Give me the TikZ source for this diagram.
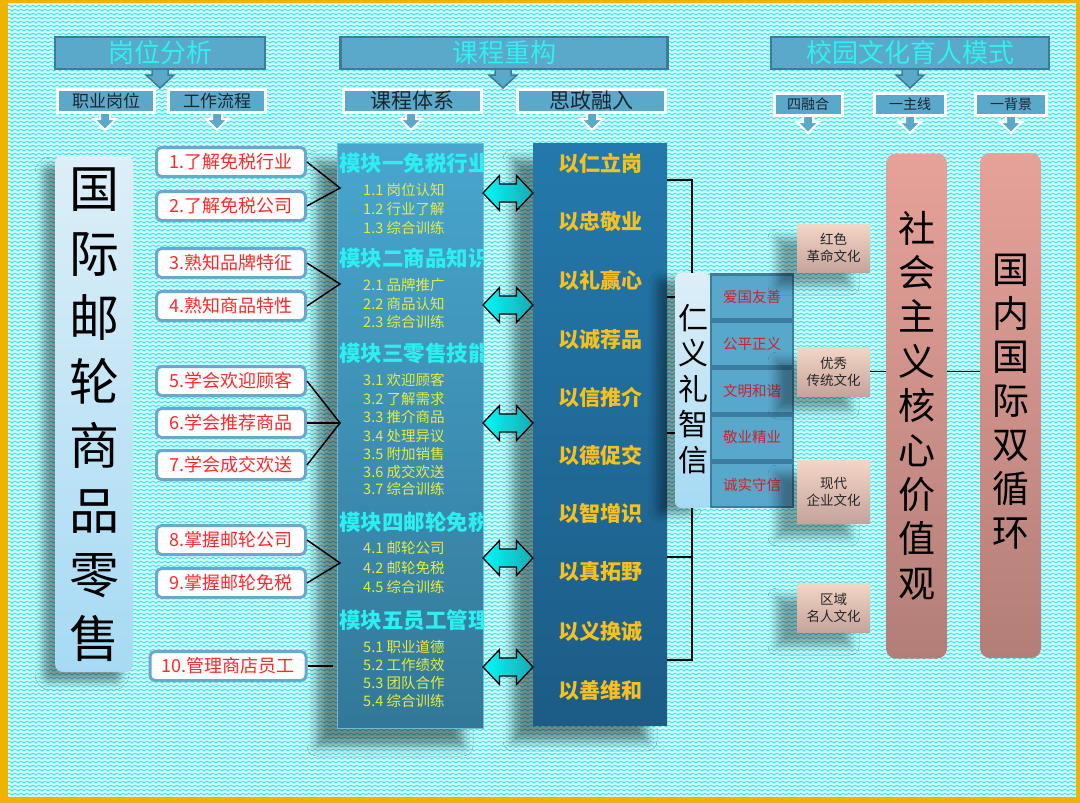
\documentclass[tikz,border=0pt]{standalone}
\usepackage{fontspec}
\newfontfamily\cjk{Noto Sans CJK SC}
\usetikzlibrary{shadows.blur,patterns,calc}
\newcommand\fsz[2]{\fontsize{#1}{#2}\selectfont}
\definecolor{frameor}{HTML}{F0B400}
\definecolor{bgbase}{HTML}{D6FAFA}
\definecolor{bgline}{HTML}{30E6EE}
\definecolor{hdrblue}{HTML}{5AA8CA}
\definecolor{hdrdark}{HTML}{3C7C9A}
\definecolor{hdrtext}{HTML}{30F0F0}
\definecolor{subtext}{HTML}{1A2630}
\definecolor{taskbd}{HTML}{6AA8CC}
\definecolor{taskred}{HTML}{FF2828}
\definecolor{lbtop}{HTML}{DDEFF8}
\definecolor{lbbot}{HTML}{A6DAF4}
\definecolor{modtop}{HTML}{48A6CE}
\definecolor{modbot}{HTML}{327898}
\definecolor{modbd}{HTML}{70BCDC}
\definecolor{modcyan}{HTML}{2CF0F0}
\definecolor{modyellow}{HTML}{E6EC3C}
\definecolor{sztop}{HTML}{2379AC}
\definecolor{szbot}{HTML}{1C5C86}
\definecolor{szgold}{HTML}{F5C020}
\definecolor{arrcyan}{HTML}{00FAFA}
\definecolor{arrteal}{HTML}{1AAAB2}
\definecolor{valfill}{HTML}{58A8CC}
\definecolor{valbd}{HTML}{3C7CA0}
\definecolor{valred}{HTML}{D0202A}
\definecolor{cultop}{HTML}{F4D6C6}
\definecolor{culbot}{HTML}{C4A49C}
\definecolor{pinktop}{HTML}{E6A299}
\definecolor{pinkbot}{HTML}{B37E78}
\pgfdeclarepatternformonly{zigzag}{\pgfqpoint{-1pt}{-1pt}}{\pgfqpoint{7pt}{5pt}}{\pgfqpoint{6pt}{4pt}}{
  \pgfsetlinewidth{0.8pt}
  \pgfpathmoveto{\pgfqpoint{-1.5pt}{1pt}}
  \pgfpathlineto{\pgfqpoint{0pt}{0pt}}
  \pgfpathlineto{\pgfqpoint{3pt}{2pt}}
  \pgfpathlineto{\pgfqpoint{6pt}{0pt}}
  \pgfpathlineto{\pgfqpoint{7.5pt}{1pt}}
  \pgfusepath{stroke}}
\tikzset{
  hdr/.style={fill=hdrblue, draw=hdrdark, line width=2.5pt, text=hdrtext, font=\cjk\fsz{26}{26}, inner sep=0pt, minimum height=32},
  subhdr/.style={fill=hdrblue, draw=white, line width=3pt, text=subtext, inner sep=0pt, minimum height=23},
  task/.style={fill=white, draw=taskbd, line width=3pt, rounded corners=5pt, text=taskred, font=\cjk\fsz{18}{18}, minimum width=149, minimum height=29, inner sep=0pt},
  conn/.style={draw=black, line width=1.5pt},
  lbox/.style={rounded corners=8pt, top color=lbtop, bottom color=lbbot, inner sep=0pt},
  modhead/.style={anchor=west, text=modcyan, font=\cjk\bfseries\fsz{21.5}{21.5}, inner sep=0pt},
  moditem/.style={anchor=west, text=modyellow, font=\cjk\fsz{14.5}{14.5}, inner sep=0pt},
  szt/.style={text=szgold, font=\cjk\bfseries\fsz{21}{21}, inner sep=0pt},
  valbox/.style={fill=valfill, draw=valbd, line width=2.5pt, text=valred, font=\cjk\fsz{14.5}{14.5}, minimum width=82, minimum height=44.5, inner sep=0pt},
  culbox/.style={top color=cultop, bottom color=culbot, minimum width=73, inner sep=0pt, align=center, text=black!85, font=\cjk\fsz{13.5}{17},
    blur shadow={shadow xshift=-20pt, shadow yshift=-14pt, shadow blur radius=9pt, shadow opacity=35}},
  pinkbox/.style={rounded corners=10pt, top color=pinktop, bottom color=pinkbot, minimum width=61, minimum height=505, inner sep=0pt},
  hdrarrow/.pic={\path[fill=hdrblue, draw=hdrdark, line width=1.5pt] (-8,-4) -- (-8,5) -- (-14,5) -- (0,18) -- (14,5) -- (8,5) -- (8,-4) -- cycle;},
  subarrow/.pic={\path[fill=hdrblue, draw=white, line width=2pt] (-5,-4) -- (-5,5) -- (-11,5) -- (0,16) -- (11,5) -- (5,5) -- (5,-4) -- cycle;},
  dblarrow/.pic={\path[draw=black, line width=1.3pt, left color=arrcyan, right color=arrteal] (-25,0) -- (-8.5,-17.5) -- (-8.5,-9) -- (8.5,-9) -- (8.5,-17.5) -- (25,0) -- (8.5,17.5) -- (8.5,9) -- (-8.5,9) -- (-8.5,17.5) -- cycle;}
}
\begin{document}
\begin{tikzpicture}[x=1pt,y=-1pt]
\useasboundingbox (0,0) rectangle (1080,803);
\fill[frameor] (0,0) rectangle (1080,803);
\fill[bgbase] (8,3) rectangle (1076,797);
\fill[pattern=zigzag, pattern color=bgline] (8,3) rectangle (1076,797);

% ---------- headers ----------
\pic at (160,70) {hdrarrow};
\pic at (503,70) {hdrarrow};
\pic at (910,70) {hdrarrow};
\node[hdr, minimum width=210] (h1) at (160,53) {岗位分析};
\node[hdr, minimum width=327] (h2) at (504,53) {课程重构};
\node[hdr, minimum width=278] (h3) at (910,53) {校园文化育人模式};

\pic at (105,114) {subarrow};
\pic at (217,114) {subarrow};
\pic at (411,114) {subarrow};
\pic at (592,114) {subarrow};
\pic at (808,117) {subarrow};
\pic at (910,117) {subarrow};
\pic at (1011,117) {subarrow};
\node[subhdr, minimum width=97, font=\cjk\fsz{17}{17}] (s1) at (106,101) {职业岗位};
\node[subhdr, minimum width=97, font=\cjk\fsz{17}{17}] (s2) at (217,101) {工作流程};
\node[subhdr, minimum width=138, font=\cjk\fsz{21}{21}] (s3) at (412,101) {课程体系};
\node[subhdr, minimum width=148, font=\cjk\fsz{21}{21}] (s4) at (591,101) {思政融入};
\node[subhdr, minimum width=68, minimum height=22, font=\cjk\fsz{14}{14}] (s5) at (808,104) {四融合};
\node[subhdr, minimum width=71, minimum height=22, font=\cjk\fsz{14}{14}] (s6) at (910,104) {一主线};
\node[subhdr, minimum width=71, minimum height=22, font=\cjk\fsz{14}{14}] (s7) at (1011,104) {一背景};

% ---------- left big box ----------
\node[lbox, minimum width=78, minimum height=517,
  blur shadow={shadow xshift=-12pt, shadow yshift=-10pt, shadow blur radius=8pt, shadow opacity=40}] (lb) at (94,413.5) {};
\node[font=\cjk\fsz{50}{64.3}, align=center, text=black, inner sep=0pt] (lbt) at (94,415) {国\\际\\邮\\轮\\商\\品\\零\\售};

% ---------- module box ----------
\node[top color=modtop, bottom color=modbot, draw=modbd, line width=1pt, minimum width=146, minimum height=585, inner sep=0pt,
  blur shadow={shadow xshift=-20pt, shadow yshift=-18pt, shadow blur radius=10pt, shadow opacity=45}] (mod) at (410,435.5) {};
\begin{scope}
\clip (337,143) rectangle (483,728);
\node[modhead] (mh1) at (339,163) {模块一免税行业};
\node[modhead] (mh2) at (339,258) {模块二商品知识};
\node[modhead] (mh3) at (339,353) {模块三零售技能};
\node[modhead] (mh4) at (339,522) {模块四邮轮免税};
\node[modhead] (mh5) at (339,620) {模块五员工管理};
\end{scope}
\foreach \yy/\lbl in {190/1.1 岗位认知, 209/1.2 行业了解, 228/1.3 综合训练,
  285/2.1 品牌推广, 304/2.2 商品认知, 322/2.3 综合训练,
  380/3.1 欢迎顾客, 399/3.2 了解需求, 417/3.3 推介商品, 436/3.4 处理异议, 454/3.5 附加销售, 472/3.6 成交欢送, 489/3.7 综合训练,
  548/4.1 邮轮公司, 568/4.2 邮轮免税, 587/4.5 综合训练,
  647/5.1 职业道德, 665/5.2 工作绩效, 683/5.3 团队合作, 701/5.4 综合训练}
  \node[moditem] (mi\yy) at (363,\yy) {\lbl};

% ---------- task boxes ----------
\node[task] (t1) at (231,162) {1.了解免税行业};
\node[task] (t2) at (231,206) {2.了解免税公司};
\node[task] (t3) at (231,263) {3.熟知品牌特征};
\node[task] (t4) at (231,306) {4.熟知商品特性};
\node[task] (t5) at (231,381) {5.学会欢迎顾客};
\node[task] (t6) at (231,423) {6.学会推荐商品};
\node[task] (t7) at (231,465) {7.学会成交欢送};
\node[task] (t8) at (231,540) {8.掌握邮轮公司};
\node[task] (t9) at (231,583) {9.掌握邮轮免税};
\node[task, minimum width=156] (t10) at (228,666) {10.管理商店员工};

\coordinate (c1) at (340,188);
\coordinate (c2) at (340,284);
\coordinate (c3) at (340,423);
\coordinate (c4) at (340,563);
\coordinate (c5) at (333,666);
\draw[conn] (t1.east) -- (c1) -- (t2.east);
\draw[conn] (t3.east) -- (c2) -- (t4.east);
\draw[conn] (t5.east) -- (c3) -- (t7.east);
\draw[conn] (t6.east) -- (c3);
\draw[conn] (t8.east) -- (c4) -- (t9.east);
\draw[conn] (t10.east) -- (c5);

% ---------- 思政 box ----------
\node[top color=sztop, bottom color=szbot, minimum width=134, minimum height=582, inner sep=0pt,
  blur shadow={shadow xshift=-20pt, shadow yshift=-16pt, shadow blur radius=10pt, shadow opacity=45}] (sz) at (600,434) {};
\foreach \yy/\lbl in {163/以仁立岗, 222/以忠敬业, 280/以礼赢心, 340/以诚荐品, 397/以信推介,
  455/以德促交, 513/以智增识, 572/以真拓野, 632/以义换诚, 690/以善维和}
  \node[szt] (sz\yy) at (600,\yy) {\lbl};

% double arrows between the two columns
\foreach \yy in {193,305,423,558,667}
  \pic at (508,\yy) {dblarrow};

% bracket
\coordinate (b1) at (692,180);
\coordinate (b2) at (692,297);
\coordinate (b3) at (692,433);
\coordinate (b4) at (692,557);
\coordinate (b5) at (692,660);
\draw[conn] (sz.east |- b1) -- (b1) -- (b5) -- (sz.east |- b5);
\draw[conn] (sz.east |- b2) -- (b2);
\draw[conn] (sz.east |- b3) -- (b3);
\draw[conn] (sz.east |- b4) -- (b4);

% ---------- 仁义礼智信 ----------
\node[lbox, rounded corners=6pt, minimum width=35, minimum height=235,
  blur shadow={shadow xshift=-18pt, shadow yshift=-6pt, shadow blur radius=9pt, shadow opacity=40}] (ry) at (692.5,390.5) {};
\node[font=\cjk\fsz{30}{35.5}, align=center, text=black, inner sep=0pt] (ryt) at (693,389) {仁\\义\\礼\\智\\信};

\node[valbox] (v1) at (752,296.5) {爱国友善};
\node[valbox] (v2) at (752,343.5) {公平正义};
\node[valbox] (v3) at (752,390.5) {文明和谐};
\node[valbox] (v4) at (752,437.5) {敬业精业};
\node[valbox] (v5) at (752,484.5) {诚实守信};

% ---------- culture boxes ----------
\node[culbox, minimum height=48] (cu1) at (833.5,248) {红色\\革命文化};
\node[culbox, minimum height=49] (cu2) at (833.5,371.5) {优秀\\传统文化};
\node[culbox, minimum height=63] (cu3) at (833.5,491.5) {现代\\企业文化};
\node[culbox, minimum height=49] (cu4) at (833.5,607.5) {区域\\名人文化};

% ---------- right boxes ----------
\node[pinkbox] (sh) at (916.5,406) {};
\node[font=\cjk\fsz{37}{44.4}, align=center, text=black, inner sep=0pt] (sht) at (916.5,405.5) {社\\会\\主\\义\\核\\心\\价\\值\\观};
\node[pinkbox] (gn) at (1010.5,405.5) {};
\node[font=\cjk\fsz{37}{43.8}, align=center, text=black, inner sep=0pt] (gnt) at (1010.5,401.5) {国\\内\\国\\际\\双\\循\\环};

\draw[conn] (cu2.east) -- (sh.west |- cu2.east);
\draw[conn] (sh.east |- cu2.east) -- (gn.west |- cu2.east);
\end{tikzpicture}
\end{document}
